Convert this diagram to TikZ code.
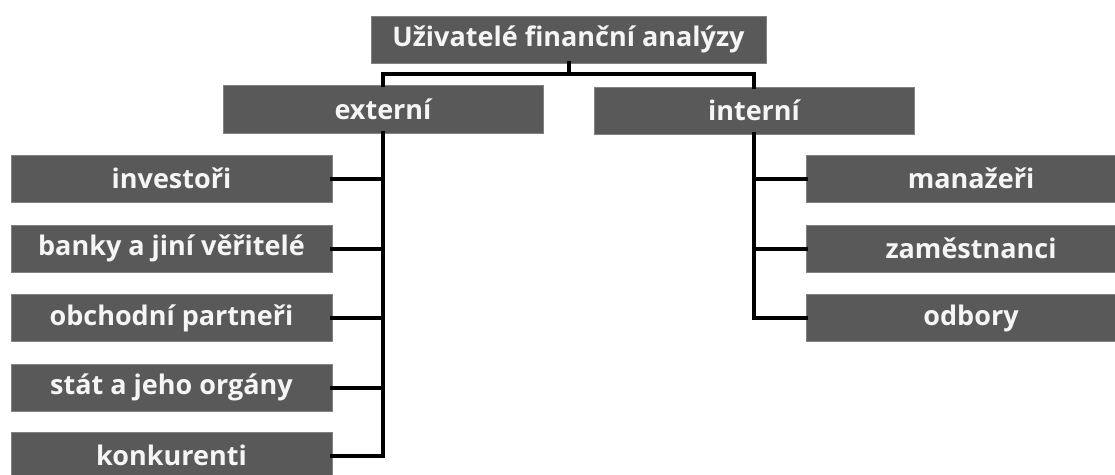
\documentclass[tikz,border=0pt]{standalone}
\usepackage{fontspec}
\setmainfont{Open Sans}
\definecolor{boxgray}{RGB}{89,89,89}
\definecolor{boxedge}{RGB}{130,130,130}
\definecolor{boxtext}{RGB}{245,245,245}
\begin{document}
\begin{tikzpicture}[x=1pt,y=-1pt,
  box/.style={draw=boxedge,line width=0.6pt,fill=boxgray,text=boxtext,
    font=\fontsize{27}{30}\selectfont\bfseries,inner sep=0pt,
    minimum height=47pt,anchor=center},
  link/.style={line width=4pt,black,line cap=rect,line join=miter}]
\useasboundingbox (0,0) rectangle (1115,474);
\clip (0,0) rectangle (1115,474);
\node[box,minimum width=395pt] (top) at (568.5,39.5) {Uživatelé finanční analýzy};
\node[box,minimum width=320pt,minimum height=48pt] (ext) at (383,109) {externí};
\node[box,minimum width=320pt] (int) at (754,110.5) {interní};
\node[box,minimum width=321pt] (l1) at (171.5,178.5) {investoři};
\node[box,minimum width=321pt] (l2) at (171.5,248.5) {banky a jiní věřitelé};
\node[box,minimum width=321pt] (l3) at (171.5,318) {obchodní partneři};
\node[box,minimum width=321pt] (l4) at (171.5,387.5) {stát a jeho orgány};
\node[box,minimum width=321pt] (l5) at (171.5,455.5) {konkurenti};
\node[box,minimum width=330pt] (r1) at (971,178.5) {manažeři};
\node[box,minimum width=330pt] (r2) at (971,248.5) {zaměstnanci};
\node[box,minimum width=330pt] (r3) at (971,318) {odbory};
\coordinate (hub) at (568.5,74);
\draw[link] (top.south) -- (hub);
\draw[link] (ext.north) |- (hub) -| (int.north);
\draw[link] (ext.south) |- (l5.east);
\foreach \n in {l1,l2,l3,l4} \draw[link] (\n.east) -- (\n.east -| ext.south);
\draw[link] (int.south) |- (r3.west);
\foreach \n in {r1,r2} \draw[link] (\n.west) -- (\n.west -| int.south);
\end{tikzpicture}
\end{document}
